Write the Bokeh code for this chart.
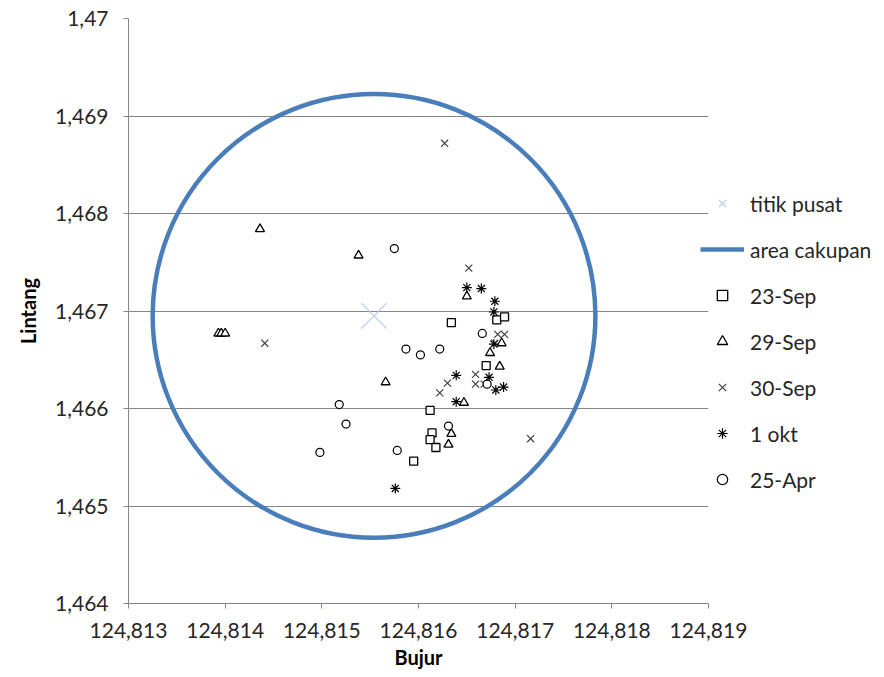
from bokeh.plotting import figure
from bokeh.models import Range1d, FixedTicker, CustomJSTickFormatter, Legend, LegendItem
from bokeh.embed import file_html
from bokeh.resources import INLINE

# ---- axis ticks ----
x_ticks = [124.813, 124.814, 124.815, 124.816, 124.817, 124.818, 124.819]
x_tick_labels = ["124,813", "124,814", "124,815", "124,816", "124,817", "124,818", "124,819"]
y_ticks = [1.464, 1.465, 1.466, 1.467, 1.468, 1.469, 1.470]
y_tick_labels = ["1,464", "1,465", "1,466", "1,467", "1,468", "1,469", "1,47"]

# ---- centre point and coverage area ----
pusat_x = [124.81554]
pusat_y = [1.46695]
area_x = [124.81554]
area_y = [1.46695]
area_w = [0.00458]
area_h = [0.00455]

# ---- observation series ----
sep23_x = [124.81634, 124.81681, 124.81689, 124.81670, 124.81612, 124.81614, 124.81612, 124.81618, 124.81595]
sep23_y = [1.46688, 1.46691, 1.46694, 1.46644, 1.46598, 1.46575, 1.46568, 1.46560, 1.46546]

sep29_x = [124.81436, 124.81538, 124.81393, 124.81396, 124.81400, 124.81650, 124.81686, 124.81674,
           124.81684, 124.81566, 124.81647, 124.81634, 124.81631]
sep29_y = [1.46784, 1.46757, 1.46677, 1.46677, 1.46677, 1.46715, 1.46667, 1.46657,
           1.46643, 1.46627, 1.46606, 1.46574, 1.46563]

sep30_x = [124.81627, 124.81441, 124.81652, 124.81682, 124.81689, 124.81679, 124.81659, 124.81659,
           124.81668, 124.81630, 124.81622, 124.81716]
sep30_y = [1.46872, 1.46667, 1.46744, 1.46676, 1.46676, 1.46667, 1.46635, 1.46625,
           1.46625, 1.46626, 1.46616, 1.46569]

okt1_x = [124.81650, 124.81665, 124.81679, 124.81678, 124.81678, 124.81639, 124.81673, 124.81680,
          124.81688, 124.81639, 124.81576]
okt1_y = [1.46724, 1.46723, 1.46710, 1.46699, 1.46666, 1.46634, 1.46632, 1.46619,
          1.46622, 1.46607, 1.46518]

apr25_x = [124.81575, 124.81666, 124.81587, 124.81602, 124.81622, 124.81671, 124.81631, 124.81518,
           124.81525, 124.81498, 124.81578]
apr25_y = [1.46764, 1.46677, 1.46661, 1.46655, 1.46661, 1.46625, 1.46582, 1.46604,
           1.46584, 1.46555, 1.46557]

FONT = "Lato"
GRAY = "#868686"
TXT = "#262626"
BLUE = "#4A7EBB"

p = figure(frame_width=580, frame_height=585,
           x_range=Range1d(124.813, 124.819), y_range=Range1d(1.464, 1.470),
           output_backend="svg", toolbar_location=None,
           min_border_left=128, min_border_top=18, min_border_bottom=60, min_border_right=0,
           x_axis_label="Bujur", y_axis_label="Lintang")
p.outline_line_color = None
p.background_fill_color = "white"

fmt_code = """
let best = 0; let d = 1e9;
for (let i = 0; i < tvals.length; i++) {
  const e = Math.abs(tvals[i] - tick);
  if (e < d) { d = e; best = i; }
}
return tlabels[best];
"""
p.xaxis.ticker = FixedTicker(ticks=x_ticks)
p.xaxis.formatter = CustomJSTickFormatter(args=dict(tvals=x_ticks, tlabels=x_tick_labels), code=fmt_code)
p.yaxis.ticker = FixedTicker(ticks=y_ticks)
p.yaxis.formatter = CustomJSTickFormatter(args=dict(tvals=y_ticks, tlabels=y_tick_labels), code=fmt_code)

for ax in (p.xaxis, p.yaxis):
    ax.axis_line_color = GRAY
    ax.major_tick_line_color = GRAY
    ax.major_tick_out = 5
    ax.major_tick_in = 0
    ax.minor_tick_line_color = None
    ax.major_label_text_font = FONT
    ax.major_label_text_font_size = "21px"
    ax.major_label_text_color = TXT
    ax.axis_label_text_font = FONT
    ax.axis_label_text_font_size = "20px"
    ax.axis_label_text_font_style = "bold"
    ax.axis_label_text_color = "#000000"
p.xaxis.major_label_standoff = 14
p.xaxis.axis_label_standoff = 4
p.yaxis.major_label_standoff = 15
p.yaxis.axis_label_standoff = 12

p.xgrid.grid_line_color = None
p.ygrid.ticker = FixedTicker(ticks=y_ticks)
p.ygrid.grid_line_color = GRAY
p.ygrid.grid_line_width = 1

r_pusat = p.scatter(pusat_x, pusat_y, marker="x", size=36, line_color="#B9C9E6", line_width=1.2)
p.ellipse(area_x, area_y, width=area_w, height=area_h, fill_color=None,
          line_color=BLUE, line_width=4.5)
# zero-length line used only as the legend swatch for the coverage area
r_area = p.line(area_x, area_y, line_color=BLUE, line_width=4.5)

r23 = p.scatter(sep23_x, sep23_y, marker="square", size=8, fill_color="white",
                line_color="#000000", line_width=1.3)
r29 = p.scatter(sep29_x, sep29_y, marker="triangle", size=9, fill_color="white",
                line_color="#000000", line_width=1.3)
r30 = p.scatter(sep30_x, sep30_y, marker="x", size=10, line_color="#404040", line_width=1.2)
r1 = p.scatter(okt1_x, okt1_y, marker="asterisk", size=10, line_color="#000000", line_width=1.2)
r25 = p.scatter(apr25_x, apr25_y, marker="circle", size=8, fill_color="white",
                line_color="#000000", line_width=1.2)

legend = Legend(items=[
    LegendItem(label="titik pusat", renderers=[r_pusat]),
    LegendItem(label="area cakupan", renderers=[r_area]),
    LegendItem(label="23-Sep", renderers=[r23]),
    LegendItem(label="29-Sep", renderers=[r29]),
    LegendItem(label="30-Sep", renderers=[r30]),
    LegendItem(label="1 okt", renderers=[r1]),
    LegendItem(label="25-Apr", renderers=[r25]),
], location=(-8, 111))
legend.border_line_color = None
legend.background_fill_alpha = 0
legend.padding = 0
legend.margin = 0
legend.glyph_width = 44
legend.glyph_height = 26
legend.label_height = 26
legend.spacing = 20
legend.label_standoff = 6
legend.label_text_font = FONT
legend.label_text_font_size = "21px"
legend.label_text_color = TXT
p.add_layout(legend, "right")

open("out.html", "w").write(file_html(p, INLINE))
